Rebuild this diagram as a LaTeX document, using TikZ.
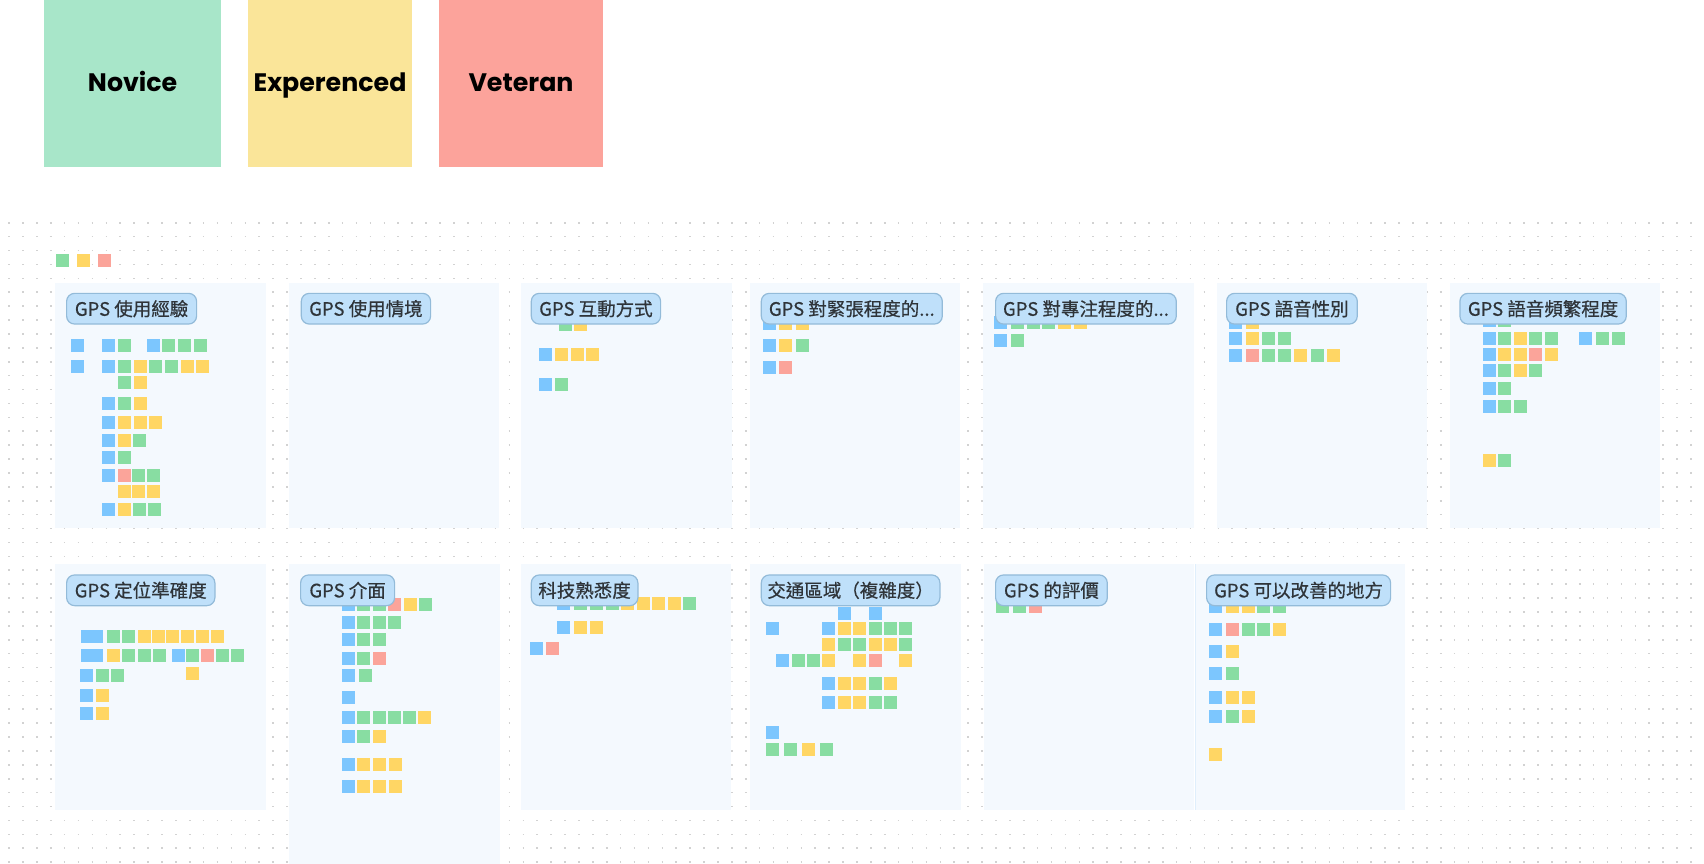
\documentclass[tikz,border=0pt]{standalone}
\usepackage{fontspec}
\newfontfamily\cjk[FakeBold=0.5]{Noto Sans CJK TC}
\newfontfamily\legfont{Poppins}
\definecolor{cB}{HTML}{7CC6FE}
\definecolor{cG}{HTML}{88DDA2}
\definecolor{cY}{HTML}{FFD664}
\definecolor{cR}{HTML}{FBA49A}
\definecolor{lgG}{HTML}{A8E6C9}
\definecolor{lgY}{HTML}{FAE599}
\definecolor{lgR}{HTML}{FCA39B}
\definecolor{panelbg}{HTML}{F4F9FE}
\definecolor{pillbg}{HTML}{BFE0FA}
\definecolor{pillbd}{HTML}{93BBD9}
\definecolor{pilltx}{HTML}{2F3439}
\definecolor{dotc}{HTML}{D2D2D2}
\begin{document}
\begin{tikzpicture}[x=1pt,y=-1pt,
  legendbox/.style={inner sep=0pt, minimum height=166.7pt},
  legendtext/.style={inner sep=0pt, anchor=base, font=\legfont\bfseries\fontsize{25.3}{25.3}\selectfont, text=black},
  panel/.style={fill=panelbg},
  pill/.style={draw=pillbd, line width=1.2pt, fill=pillbg, rounded corners=8pt, minimum height=30.7pt, inner sep=0pt, anchor=west, text=pilltx, font=\cjk\fontsize{18.5}{18.5}\selectfont},
  dotline/.style={draw=dotc, line width=1.6pt, dash pattern=on 1.6pt off 12.3pt}]
\useasboundingbox (0,0) rectangle (1704,864);
\fill[white] (0,0) rectangle (1704,864);
% dot grid
\foreach \k in {0,...,46}{
  \draw[dotline] (8.2,{222.7+13.9*\k}) -- (1693,{222.7+13.9*\k});
}
% legend
\node[legendbox, fill=lgG, minimum width=177.5pt] (novice) at (132.65,83.35) {};
\node[legendbox, fill=lgY, minimum width=164pt] (exper) at (330,83.35) {};
\node[legendbox, fill=lgR, minimum width=164pt] (veteran) at (521,83.35) {};
\node[legendtext] (noviceT) at (132.65,91.7) {Novice};
\node[legendtext] (experT) at (330,91.7) {Experenced};
\node[legendtext] (veteranT) at (521,91.7) {Veteran};
% tiny legend notes
\foreach \c/\x in {G/56,Y/77,R/98}{ \fill[fill=c\c] (\x,254) rectangle ++(13,13); }
% panels row 1
\foreach \x in {55,288.5,521,749.5,983,1216.5,1449.5}{ \fill[panel] (\x,283.3) rectangle ++(210.5,245); }
% panels row 2
\foreach \x in {55,520.5,750,983.5}{ \fill[panel] (\x,564.3) rectangle ++(210.5,245.7); }
\fill[panel] (289,564.3) rectangle (500,864);
\fill[panel] (1196,564.3) rectangle (1405,810);
\draw[pillbg!50, line width=0.6pt] (1195.5,564.3) -- (1195.5,810);
% notes row 1
\foreach \c/\x/\y in {
 B/71/339, B/102/339, G/118/339, B/147/339, G/162/339, G/178/339, G/194/339,
 B/71/360, B/102/360, G/118/360, Y/134/360, G/149/360, G/165/360, Y/181/360, Y/196/360,
 G/118/376, Y/134/376,
 B/102/397, G/118/397, Y/134/397,
 B/102/416, Y/118/416, Y/134/416, Y/149/416,
 B/102/434, Y/118/434, G/133/434,
 B/102/451, G/118/451,
 B/102/469, R/118/469, G/132/469, G/147/469,
 Y/118/485, Y/132/485, Y/147/485,
 B/102/503, Y/118/503, G/133/503, G/148/503,
 G/559/318, Y/574/318, B/539/348, Y/555/348, Y/571/348, Y/586/348, B/539/378, G/555/378,
 B/763/317, Y/779/317, Y/796/317, B/763/339, Y/779/339, G/796/339, B/763/361, R/779/361,
 B/994/316, G/1011/316, G/1027/316, G/1042/316, Y/1058/316, Y/1074/316, B/994/334, G/1011/334,
 B/1229/316, Y/1246/316, B/1229/332, Y/1246/332, G/1262/332, G/1278/332,
 B/1229/349, R/1246/349, G/1262/349, G/1278/349, Y/1294/349, G/1311/349, Y/1327/349,
 B/1483/314, G/1498/314,
 B/1483/332, G/1498/332, Y/1514/332, G/1529/332, G/1545/332, B/1579/332, G/1596/332, G/1612/332,
 B/1483/348, Y/1498/348, Y/1514/348, R/1529/348, Y/1545/348,
 B/1483/364, G/1498/364, Y/1514/364, G/1529/364,
 B/1483/382, G/1498/382,
 B/1483/400, G/1498/400, G/1514/400,
 Y/1483/454, G/1498/454}{
 \fill[fill=c\c] (\x,\y) rectangle ++(13,13);
}
% notes row 2
\fill[cB] (81,630) rectangle ++(22,13);
\fill[cB] (81,649) rectangle ++(22,13);
\foreach \c/\x/\y in {
 G/107/630, G/122/630, Y/138/630, Y/152/630, Y/166/630, Y/181/630, Y/196/630, Y/211/630,
 Y/107/649, G/122/649, G/138/649, G/153/649, B/172/649, G/186/649, R/201/649, G/216/649, G/231/649,
 Y/186/667, B/80/669, G/96/669, G/111/669, B/80/689, Y/96/689, B/80/707, Y/96/707,
 B/342/598, G/357/598, G/373/598, R/388/598, Y/404/598, G/419/598,
 B/342/616, G/357/616, G/373/616, G/388/616,
 B/342/633, G/357/633, G/373/633,
 B/342/652, G/357/652, R/373/652,
 B/342/669, G/359/669,
 B/342/691,
 B/342/711, G/357/711, G/373/711, G/388/711, G/403/711, Y/418/711,
 B/342/730, G/357/730, Y/373/730,
 B/342/758, Y/357/758, Y/373/758, Y/389/758,
 B/342/780, Y/357/780, Y/373/780, Y/389/780,
 B/557/597, G/574/597, G/590/597, G/606/597, Y/621/597, Y/637/597, Y/652/597, Y/668/597, G/683/597,
 B/557/621, Y/574/621, Y/590/621, B/530/642, R/546/642,
 B/838/607, B/869/607,
 B/766/622, B/822/622, Y/838/622, Y/853/622, G/869/622, G/884/622, G/899/622,
 Y/822/638, G/838/638, G/853/638, Y/869/638, Y/884/638, G/899/638,
 B/776/654, G/792/654, G/807/654, Y/822/654, Y/853/654, R/869/654, Y/899/654,
 B/822/677, Y/838/677, Y/853/677, G/869/677, Y/884/677,
 B/822/696, Y/838/696, Y/853/696, G/869/696, G/884/696,
 B/766/726, G/766/743, G/784/743, Y/802/743, G/820/743,
 G/996/600, G/1013/600, R/1029/600,
 B/1209/600, Y/1226/600, Y/1242/600, G/1257/600, G/1273/600,
 B/1209/623, R/1226/623, G/1242/623, G/1257/623, Y/1273/623,
 B/1209/645, Y/1226/645, B/1209/667, G/1226/667,
 B/1209/691, Y/1226/691, Y/1242/691,
 B/1209/710, G/1226/710, Y/1242/710,
 Y/1209/748}{
 \fill[fill=c\c] (\x,\y) rectangle ++(13,13);
}
% titles row 1
\node[pill, minimum width=130pt] (t1) at (66,308.7) {GPS 使用經驗};
\node[pill, minimum width=129.3pt] (t2) at (300.7,308.7) {GPS 使用情境};
\node[pill, minimum width=129.3pt] (t3) at (530.7,308.7) {GPS 互動方式};
\node[pill, minimum width=181pt] (t4) at (760.7,308.7) {GPS 對緊張程度的...};
\node[pill, minimum width=180.7pt] (t5) at (995,308.7) {GPS 對專注程度的...};
\node[pill, minimum width=130.7pt] (t6) at (1226,308.7) {GPS 語音性別};
\node[pill, minimum width=166.4pt] (t7) at (1459.3,308.7) {GPS 語音頻繁程度};
% titles row 2
\node[pill, minimum width=148.3pt] (u1) at (66,590.3) {GPS 定位準確度};
\node[pill, minimum width=94pt] (u2) at (300,590.3) {GPS 介面};
\node[pill, minimum width=106.6pt] (u3) at (530.7,590.3) {科技熟悉度};
\node[pill, minimum width=178.6pt] (u4) at (760.7,590.3) {交通區域（複雜度）};
\node[pill, minimum width=111.7pt] (u5) at (995,590.3) {GPS 的評價};
\node[pill, minimum width=184pt] (u6) at (1206,590.3) {GPS 可以改善的地方};
\end{tikzpicture}
\end{document}
